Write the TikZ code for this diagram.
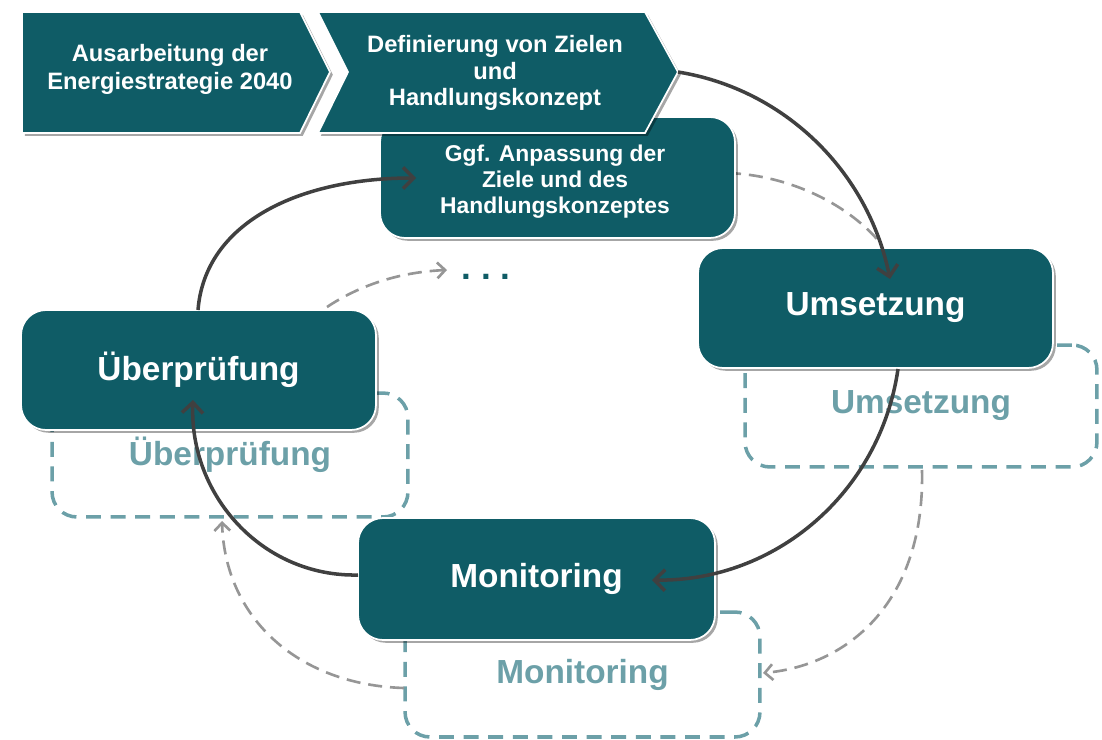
\documentclass[tikz,border=0pt]{standalone}
\usepackage{fontspec}
\setmainfont{Liberation Sans}
\usetikzlibrary{arrows.meta,shadows}
\definecolor{boxteal}{RGB}{15,92,102}
\definecolor{dashteal}{RGB}{108,160,168}
\definecolor{arcgray}{RGB}{64,64,64}
\definecolor{dashgray}{RGB}{150,150,150}
\begin{document}
\begin{tikzpicture}[x=0.02cm,y=-0.02cm,
  shadowed/.style={drop shadow={shadow xshift=1.6pt,shadow yshift=-1.6pt,opacity=0.35,fill=black}},
  mainbox/.style={shadowed,rectangle,rounded corners=0.5cm,fill=boxteal,draw=white,line width=1pt,
    minimum width=7.1cm,minimum height=2.4cm,text=white,font=\fontsize{19}{22}\selectfont\bfseries},
  ghostbox/.style={rectangle,rounded corners=0.5cm,draw=dashteal,line width=2pt,
    dash pattern=on 8.5pt off 5.5pt,text=dashteal,font=\fontsize{19}{22}\selectfont\bfseries},
  chevshape/.style={shadowed,fill=boxteal,draw=white,line width=1pt},
  chevtext/.style={text=white,align=center,font=\fontsize{13.5}{15.2}\selectfont\bfseries},
  arcline/.style={draw=arcgray,line width=2pt,-{Straight Barb[length=6pt,width=12pt]}},
  dasharc/.style={draw=dashgray,line width=1.5pt,dash pattern=on 8pt off 4.5pt},
  dasharrow/.style={dasharc,-{Straight Barb[length=4.5pt,width=9pt]}}
]
\useasboundingbox (0,0) rectangle (1102,740);

% ghost (dashed) boxes
\node[ghostbox,minimum width=7.04cm,minimum height=2.44cm] (umsG) at (921,406) {Umsetzung};
\node[ghostbox,minimum width=7.12cm,minimum height=2.48cm] (uebG) at (230,455) {\raisebox{-3pt}{Überprüfung}};
\node[ghostbox,minimum width=7.1cm,minimum height=2.5cm] (monG) at (582.5,674.5) {Monitoring};

% dashed arcs
\coordinate (ggfOut) at (727,173);
\coordinate (umsTop) at (882,245);
\coordinate (uebOutD) at (327,307);
\coordinate (dotsIn) at (447,270);
\coordinate (umsGOut) at (922,470);
\coordinate (monGIn) at (763,673);
\coordinate (monGOut) at (404,688);
\coordinate (uebGIn) at (222,521);
\draw[dasharc] (ggfOut) .. controls (790,175) and (850,205) .. (umsTop);
\draw[dasharrow] (uebOutD) .. controls (360,285) and (400,272) .. (dotsIn);
\draw[dasharrow] (umsGOut) .. controls (925,600) and (850,665) .. (monGIn);
\draw[dasharrow] (monGOut) .. controls (300,685) and (225,620) .. (uebGIn);

\node[text=boxteal,font=\fontsize{20}{22}\selectfont\bfseries,anchor=base] (dots) at (486,279) {.\hspace{5.5pt}.\hspace{5.5pt}.};

% main boxes
\node[mainbox,minimum width=7.1cm,minimum height=2.42cm] (ggf) at (557.5,177.5) {};
\node[chevtext,font=\fontsize{13}{14.8}\selectfont\bfseries] (ggfT) at (555,182) {Ggf. Anpassung der\\Ziele und des\\Handlungskonzeptes};
\node[mainbox] (ums) at (875.5,308) {Umsetzung};
\node[mainbox] (ueb) at (198.5,370) {Überprüfung};
\node[mainbox,minimum width=7.14cm,minimum height=2.44cm] (mon) at (536.5,579) {Monitoring};

% chevrons
\draw[chevshape] (22,12) -- (300,12) -- (330,72) -- (300,133) -- (22,133) -- cycle;
\draw[chevshape] (318,12) -- (645,12) -- (678,72) -- (645,133) -- (318,133) -- (348,72) -- cycle;
\node[chevtext,font=\fontsize{13.5}{16}\selectfont\bfseries] (ch1) at (170,69) {Ausarbeitung der\\Energiestrategie 2040};
\node[chevtext] (ch2) at (495,73) {Definierung von Zielen\\und\\Handlungskonzept};

% solid cycle arcs
\coordinate (c2tip) at (678,72);
\coordinate (umsIn) at (890,279);
\coordinate (umsOut) at (898,369);
\coordinate (monIn) at (652,580);
\coordinate (monOut) at (358,575);
\coordinate (uebIn) at (193,400);
\coordinate (uebOut) at (198,310);
\coordinate (ggfIn) at (416,178);
\draw[arcline] (c2tip) .. controls (784,89) and (868,171) .. (umsIn);
\draw[arcline] (umsOut) .. controls (880,493) and (775,582) .. (monIn);
\draw[arcline] (monOut) .. controls (262,577) and (189,495) .. (uebIn);
\draw[arcline] (uebOut) .. controls (205,222) and (300,178) .. (ggfIn);
\end{tikzpicture}
\end{document}
